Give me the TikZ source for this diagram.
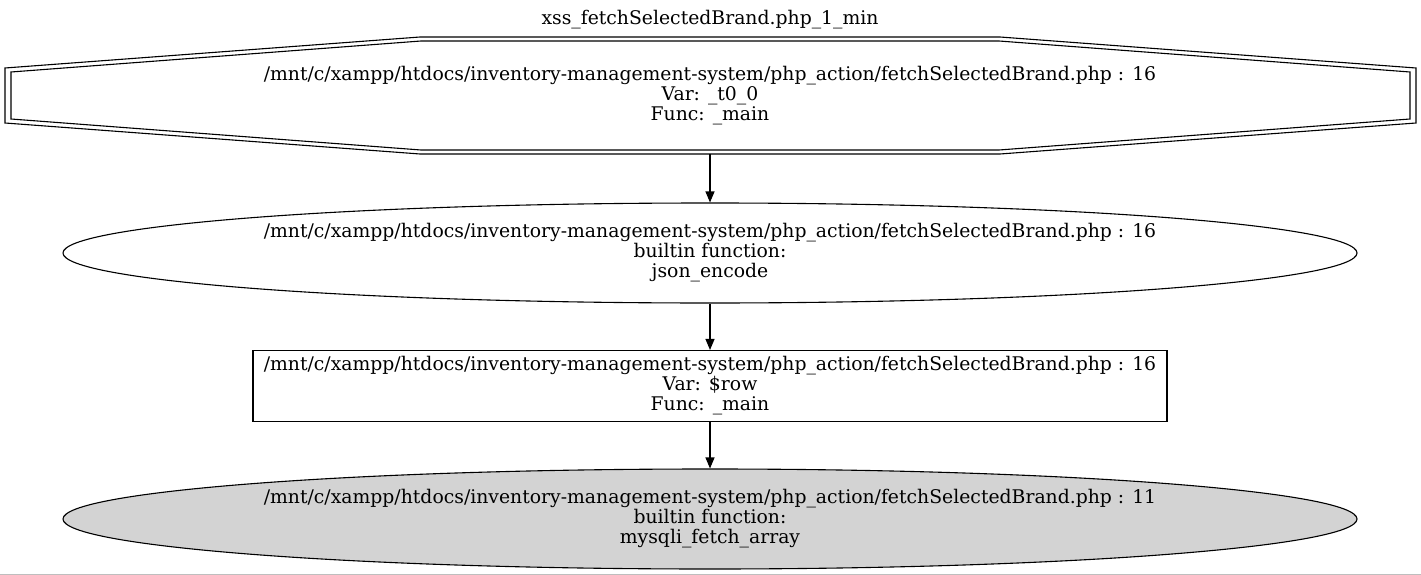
\documentclass[tikz,border=0pt]{standalone}
\usepackage{fontspec}
\setmainfont{DejaVu Serif}
\usetikzlibrary{arrows.meta,shapes.geometric}
\definecolor{sinkfill}{RGB}{211,211,211}
\definecolor{pageedge}{RGB}{190,190,190}
\tikzset{flow/.style={-{Triangle[length=11pt,width=9pt]},line width=1.1pt},
 every node/.style={font=\fontsize{18.8}{20}\selectfont,align=center,inner sep=0pt},
 callnode/.style={ellipse,draw,line width=1.1pt,minimum width=1294pt,minimum height=100pt},
 varbox/.style={rectangle,draw,line width=1.1pt,minimum width=914pt,minimum height=71pt}}

\begin{document}
\begin{tikzpicture}[x=1pt,y=-1pt]
\useasboundingbox (0,0) rectangle (1421,575);
\node (title) at (710,20) {xss\_fetchSelectedBrand.php\_1\_min};
\node[minimum width=1411pt,minimum height=117pt] (src) at (710,95.5)
 {/mnt/c/xampp/htdocs/inventory-management-system/php\_action/fetchSelectedBrand.php : 16\\
 Var: \_t0\_0\\ Func: \_main};
\draw[line width=1.1pt] (5,68)--(420,37)--(1000,37)--(1416,68)--(1416,123)--(1000,154)--(420,154)--(5,123)--cycle;
\draw[line width=1.1pt] (11,72)--(421,41)--(999,41)--(1410,72)--(1410,119)--(999,150)--(421,150)--(11,119)--cycle;
\node[callnode] (enc) at (710,253)
 {/mnt/c/xampp/htdocs/inventory-management-system/php\_action/fetchSelectedBrand.php : 16\\
 builtin function:\\ json\_encode};
\node[varbox] (row) at (710,386)
 {/mnt/c/xampp/htdocs/inventory-management-system/php\_action/fetchSelectedBrand.php : 16\\
 Var: \$row\\ Func: \_main};
\node[callnode,fill=sinkfill] (fetch) at (710,519)
 {/mnt/c/xampp/htdocs/inventory-management-system/php\_action/fetchSelectedBrand.php : 11\\
 builtin function:\\ mysqli\_fetch\_array};
\draw[flow] (src.south)--(enc.north);
\draw[flow] (enc.south)--(row.north);
\draw[flow] (row.south)--(fetch.north);
\draw[pageedge] (0,574)--(1421,574);
\end{tikzpicture}
\end{document}
